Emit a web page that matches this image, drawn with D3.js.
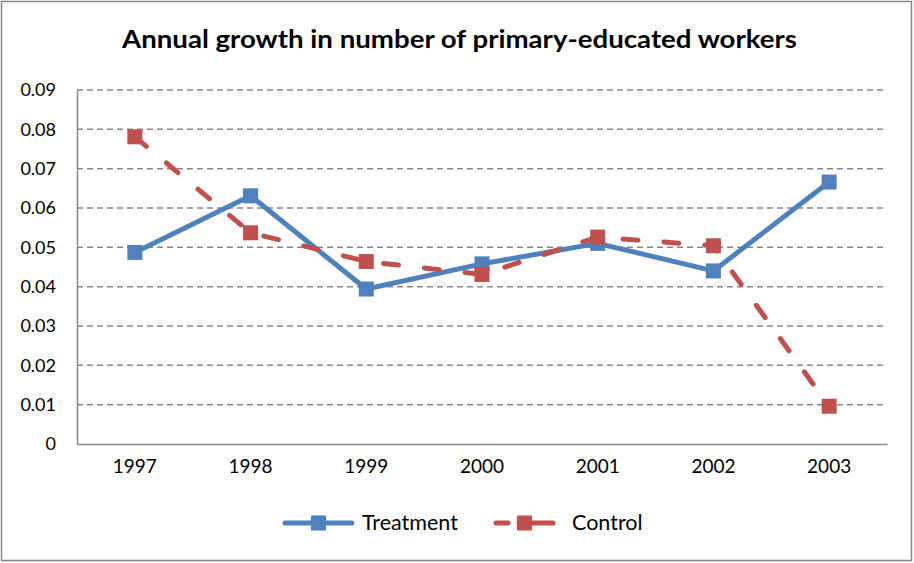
<!DOCTYPE html>
<html>
<head>
<meta charset="utf-8">
<script src="https://cdn.jsdelivr.net/npm/d3@7"></script>
<style>
  body { margin: 0; background: #fff; }
  text { font-family: Lato, "Open Sans", sans-serif; fill: #000; }
</style>
</head>
<body>
<div id="viz"></div>
<script>
// chart data
var years = ["1997", "1998", "1999", "2000", "2001", "2002", "2003"]
var treatment = [0.0487, 0.0631, 0.0394, 0.0458, 0.0510, 0.0440, 0.0666]
var control = [0.0781, 0.0537, 0.0464, 0.0431, 0.0526, 0.0504, 0.0096]
var yTicks = [0, 0.01, 0.02, 0.03, 0.04, 0.05, 0.06, 0.07, 0.08, 0.09]

var width = 914, height = 563
var margin = { top: 90, right: 27, bottom: 119, left: 77 }
var markerSize = 15
var lineWidth = 5

var svg = d3.select("#viz")
  .append("svg")
  .attr("width", width)
  .attr("height", height)

// outer frame
svg.append("rect")
  .attr("x", 1.5).attr("y", 1.5)
  .attr("width", width - 4).attr("height", height - 4)
  .style("fill", "none")
  .style("stroke", "#868686")
  .style("stroke-width", 1.5)

svg.append("text")
  .attr("x", 122).attr("y", 48)
  .attr("textLength", 675)
  .attr("lengthAdjust", "spacingAndGlyphs")
  .style("font-size", "25px")
  .style("font-weight", "bold")
  .text("Annual growth in number of primary-educated workers")

var x = d3.scaleBand()
  .domain(years)
  .range([margin.left, width - margin.right])

var y = d3.scaleLinear()
  .domain([0, 0.09])
  .range([height - margin.bottom, margin.top])

// gridlines
svg.append("g")
  .selectAll("line")
  .data(yTicks.filter(d => d > 0))
  .enter().append("line")
  .attr("x1", margin.left).attr("x2", width - margin.right)
  .attr("y1", d => y(d)).attr("y2", d => y(d))
  .style("stroke", "#868686")
  .style("stroke-width", 1.5)
  .style("stroke-dasharray", "6,4")

// y axis
var yAxis = svg.append("g")
  .attr("transform", "translate(" + margin.left + ",0)")
  .call(d3.axisLeft(y).tickValues(yTicks).tickSize(0).tickPadding(21)
    .tickFormat(d => d === 0 ? "0" : d3.format(".2f")(d)))
yAxis.select(".domain").style("stroke", "#868686").style("stroke-width", 1.5)
yAxis.selectAll("text").style("font-size", "18px").style("font-family", "Lato")

// x axis
var xAxis = svg.append("g")
  .attr("transform", "translate(0," + (height - margin.bottom) + ")")
  .call(d3.axisBottom(x).tickSize(0).tickPadding(16))
xAxis.select(".domain").style("stroke", "#868686").style("stroke-width", 1.5)
xAxis.selectAll("text").style("font-size", "19px").style("font-family", "Lato")

var cx = d => x(d) + x.bandwidth() / 2
var line = d3.line()

var series = [
  { name: "Treatment", values: treatment, color: "#4F81BD", dash: null },
  { name: "Control", values: control, color: "#C0504D", dash: "15,26" }
]

series.forEach(function (s) {
  var pts = years.map((yr, i) => [cx(yr), y(s.values[i])])
  svg.append("path")
    .attr("d", line(pts))
    .style("fill", "none")
    .style("stroke", s.color)
    .style("stroke-width", lineWidth)
    .style("stroke-linecap", "round")
    .style("stroke-linejoin", "round")
    .style("stroke-dasharray", s.dash)
  svg.append("g")
    .selectAll("rect")
    .data(pts)
    .enter().append("rect")
    .attr("x", d => d[0] - markerSize / 2).attr("y", d => d[1] - markerSize / 2)
    .attr("width", markerSize).attr("height", markerSize)
    .style("fill", s.color)
})

// legend
var legend = [
  { name: "Treatment", color: "#4F81BD", dash: null, x1: 285, x2: 352, text: 362 },
  { name: "Control", color: "#C0504D", dash: "12,11,100", x1: 496, x2: 553, text: 572 }
]
var ly = 523
legend.forEach(function (l) {
  svg.append("line")
    .attr("x1", l.x1).attr("x2", l.x2)
    .attr("y1", ly).attr("y2", ly)
    .style("stroke", l.color)
    .style("stroke-width", lineWidth)
    .style("stroke-linecap", "round")
    .style("stroke-dasharray", l.dash)
  svg.append("rect")
    .attr("x", (l.x1 + l.x2) / 2 - markerSize / 2).attr("y", ly - markerSize / 2)
    .attr("width", markerSize).attr("height", markerSize)
    .style("fill", l.color)
  svg.append("text")
    .attr("x", l.text).attr("y", ly + 7)
    .style("font-size", "21.5px")
    .text(l.name)
})
</script>
</body>
</html>
